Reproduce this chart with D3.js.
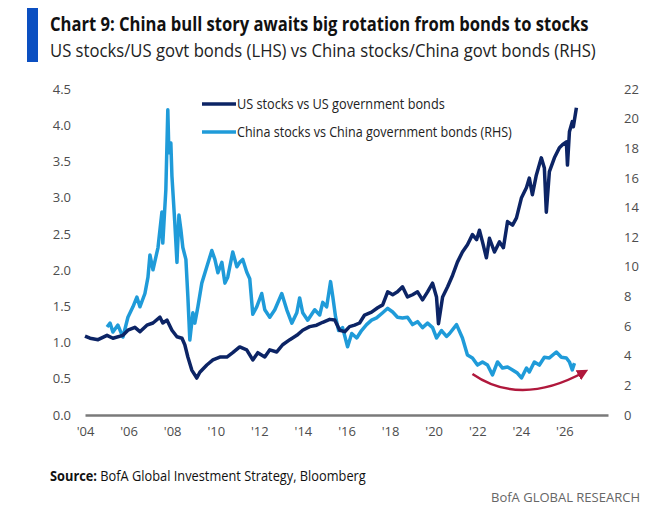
<!DOCTYPE html>
<html>
<head>
<meta charset="utf-8">
<script src="https://cdn.jsdelivr.net/npm/d3@7"></script>
<style>
  body { margin: 0; background: #fff; }
  text { font-family: "Open Sans", "Liberation Sans", sans-serif; }
</style>
</head>
<body>
<script>
// US stocks / US govt bonds (LHS): [year, ratio]
var usYears = [2004.00, 2004.23, 2004.60, 2005.01, 2005.28, 2005.74, 2005.97, 2006.29, 2006.52, 2006.84,
  2007.12, 2007.44, 2007.57, 2007.76, 2007.99, 2008.22, 2008.45, 2008.58, 2008.72, 2008.90,
  2009.13, 2009.27, 2009.59, 2009.87, 2010.19, 2010.51, 2010.78, 2011.10, 2011.42, 2011.70,
  2011.93, 2012.25, 2012.48, 2012.80, 2013.07, 2013.40, 2013.72, 2013.99, 2014.31, 2014.63,
  2014.91, 2015.23, 2015.46, 2015.69, 2015.92, 2016.14, 2016.37, 2016.60, 2016.83, 2017.15,
  2017.43, 2017.66, 2017.89, 2018.12, 2018.34, 2018.57, 2018.80, 2019.03, 2019.26, 2019.49,
  2019.72, 2019.95, 2020.13, 2020.22, 2020.41, 2020.64, 2020.87, 2021.09, 2021.32, 2021.55,
  2021.78, 2021.97, 2022.10, 2022.24, 2022.42, 2022.56, 2022.79, 2023.02, 2023.20, 2023.39,
  2023.62, 2023.80, 2024.03, 2024.26, 2024.39, 2024.53, 2024.71, 2024.94, 2025.08, 2025.17,
  2025.31, 2025.54, 2025.77, 2025.91, 2026.09, 2026.14, 2026.23, 2026.36, 2026.41, 2026.55];
var usValues = [1.09, 1.06, 1.04, 1.10, 1.06, 1.10, 1.17, 1.21, 1.15, 1.24,
  1.27, 1.35, 1.27, 1.31, 1.17, 1.08, 1.06, 0.97, 0.80, 0.62,
  0.51, 0.59, 0.69, 0.76, 0.80, 0.80, 0.86, 0.94, 0.90, 0.76,
  0.86, 0.80, 0.90, 0.87, 0.97, 1.04, 1.10, 1.17, 1.22, 1.24,
  1.28, 1.32, 1.31, 1.17, 1.15, 1.22, 1.24, 1.27, 1.38, 1.42,
  1.48, 1.52, 1.70, 1.66, 1.70, 1.77, 1.63, 1.66, 1.70, 1.59,
  1.70, 1.82, 1.63, 1.26, 1.63, 1.77, 1.93, 2.11, 2.25, 2.35,
  2.49, 2.42, 2.55, 2.39, 2.17, 2.44, 2.25, 2.39, 2.31, 2.67,
  2.62, 2.72, 3.00, 3.14, 3.27, 3.04, 3.31, 3.55, 3.41, 2.80,
  3.36, 3.55, 3.69, 3.73, 3.77, 3.45, 3.91, 4.05, 3.98, 4.24];

// China stocks / China govt bonds (RHS)
var cnYears = [2005.01, 2005.15, 2005.28, 2005.51, 2005.74, 2005.97, 2006.20, 2006.38, 2006.52, 2006.75,
  2006.89, 2006.98, 2007.12, 2007.35, 2007.53, 2007.57, 2007.71, 2007.80, 2007.85, 2007.94,
  2007.99, 2008.12, 2008.22, 2008.31, 2008.40, 2008.49, 2008.63, 2008.72, 2008.81, 2008.95,
  2009.04, 2009.18, 2009.36, 2009.59, 2009.82, 2009.96, 2010.10, 2010.28, 2010.42, 2010.55,
  2010.78, 2010.97, 2011.10, 2011.24, 2011.42, 2011.56, 2011.70, 2011.88, 2012.11, 2012.25,
  2012.48, 2012.71, 2013.03, 2013.26, 2013.49, 2013.72, 2013.85, 2013.99, 2014.22, 2014.54,
  2014.77, 2014.91, 2015.09, 2015.27, 2015.37, 2015.50, 2015.64, 2015.82, 2016.05, 2016.24,
  2016.47, 2016.69, 2016.92, 2017.15, 2017.38, 2017.66, 2017.89, 2018.12, 2018.34, 2018.57,
  2018.80, 2019.03, 2019.26, 2019.49, 2019.72, 2019.95, 2020.13, 2020.36, 2020.59, 2020.73,
  2021.05, 2021.32, 2021.55, 2021.78, 2022.01, 2022.24, 2022.47, 2022.70, 2022.93, 2023.16,
  2023.39, 2023.62, 2023.84, 2024.03, 2024.26, 2024.39, 2024.62, 2024.85, 2025.08, 2025.31,
  2025.63, 2025.86, 2026.09, 2026.23, 2026.36, 2026.46];
var cnValues = [5.94, 6.2, 5.6, 6.07, 5.26, 6.6, 7.3, 7.96, 7.3, 8.2,
  9.3, 10.8, 9.8, 11.3, 13.7, 11.6, 15.2, 20.6, 17.7, 18.35,
  16.1, 13.0, 10.3, 13.5, 12.5, 11.3, 10.5, 8.0, 5.06, 6.9,
  6.2, 7.3, 8.9, 10.0, 11.1, 10.5, 9.6, 10.3, 8.9, 9.3,
  11.0, 10.0, 10.3, 10.5, 9.65, 9.2, 6.8, 7.3, 8.2, 7.1,
  6.6, 7.1, 8.2, 7.1, 6.2, 6.9, 7.9, 6.9, 6.4, 7.1,
  6.75, 7.6, 7.3, 9.0, 8.0, 6.6, 5.7, 5.9, 4.6, 5.5,
  5.2, 5.7, 6.1, 6.4, 6.55, 6.9, 7.2, 6.95, 6.6, 6.55,
  6.6, 6.1, 6.3, 5.9, 6.2, 5.9, 5.2, 5.7, 5.3, 5.5,
  6.1, 5.2, 4.05, 3.85, 3.37, 3.58, 3.37, 2.7, 3.58, 3.17,
  3.24, 3.04, 2.83, 2.5, 3.17, 2.9, 3.58, 3.37, 3.9, 3.85,
  4.25, 3.9, 3.85, 3.58, 3.04, 3.5];

var xTicks = [2004, 2006, 2008, 2010, 2012, 2014, 2016, 2018, 2020, 2022, 2024, 2026];
var leftTicks = [0, 0.5, 1.0, 1.5, 2.0, 2.5, 3.0, 3.5, 4.0, 4.5];
var rightTicks = [0, 2, 4, 6, 8, 10, 12, 14, 16, 18, 20, 22];
var seriesNames = ["US stocks vs US government bonds", "China stocks vs China government bonds (RHS)"];
// annotation arrow under the China line: start, control, end (year, RHS value)
var arrowPts = [[2021.78, 2.77], [2023.98, 0.54], [2026.91, 2.9]];

var width = 662, height = 515;
var navy = "#0c2465", sky = "#1f9bd9", tickColor = "#4d4d4d";

var svg = d3.select("body").append("svg")
  .attr("width", width)
  .attr("height", height);

var x = d3.scaleLinear().domain([2004, 2028]).range([85, 608]);
var yL = d3.scaleLinear().domain([0, 4.5]).range([415, 89]);
var yR = d3.scaleLinear().domain([0, 22]).range([415, 89]);

// squeeze a text horizontally so it spans w pixels (the original uses a condensed face)
function fitText(g, x0, y0, w, anchorEnd) {
  var t = g.select("text");
  var natural = t.node().getComputedTextLength();
  var k = w / natural;
  g.attr("transform", "translate(" + (anchorEnd ? x0 - w : x0) + "," + y0 + ") scale(" + k + ",1)");
}

// header
svg.append("rect")
  .attr("x", 27).attr("y", 8)
  .attr("width", 11).attr("height", 54)
  .attr("fill", "#0b4fc1");

var gTitle = svg.append("g");
gTitle.append("text")
  .style("font-size", "20px").style("font-weight", "bold").attr("fill", "#111")
  .text("Chart 9: China bull story awaits big rotation from bonds to stocks");
fitText(gTitle, 50, 31, 539);

var gSub = svg.append("g");
gSub.append("text")
  .style("font-size", "18px").attr("fill", "#222")
  .text("US stocks/US govt bonds (LHS) vs China stocks/China govt bonds (RHS)");
fitText(gSub, 50, 57, 546);

// axes
var xAxis = d3.axisBottom(x).tickValues(xTicks).tickSize(0).tickPadding(12)
  .tickFormat(function (d) { return "'" + String(d).slice(2); });
var gx = svg.append("g").attr("transform", "translate(0,415)").call(xAxis);
gx.select(".domain").attr("stroke", "#7a7a7a").attr("stroke-width", 2.5);
gx.selectAll("text").style("font-size", "13px").attr("fill", tickColor);

var gl = svg.append("g").attr("transform", "translate(85,0)")
  .call(d3.axisLeft(yL).tickValues(leftTicks).tickSize(0).tickPadding(14)
    .tickFormat(d3.format(".1f")));
gl.select(".domain").remove();
gl.selectAll("text").style("font-size", "13px").attr("fill", tickColor);

var gr = svg.append("g").attr("transform", "translate(608,0)")
  .call(d3.axisRight(yR).tickValues(rightTicks).tickSize(0).tickPadding(16));
gr.select(".domain").remove();
gr.selectAll("text").style("font-size", "13px").attr("fill", tickColor);

// lines
var usData = usYears.map(function (d, i) { return [d, usValues[i]]; });
var cnData = cnYears.map(function (d, i) { return [d, cnValues[i]]; });

svg.append("path")
  .datum(cnData)
  .attr("fill", "none").attr("stroke", sky).attr("stroke-width", 3.5)
  .attr("stroke-linejoin", "round")
  .attr("d", d3.line().x(function (d) { return x(d[0]); }).y(function (d) { return yR(d[1]); }));

svg.append("path")
  .datum(usData)
  .attr("fill", "none").attr("stroke", navy).attr("stroke-width", 3.5)
  .attr("stroke-linejoin", "round")
  .attr("d", d3.line().x(function (d) { return x(d[0]); }).y(function (d) { return yL(d[1]); }));

// red arrow
svg.append("defs").append("marker")
  .attr("id", "head")
  .attr("viewBox", "0 0 10 10").attr("refX", 6).attr("refY", 5)
  .attr("markerWidth", 4.5).attr("markerHeight", 4.5)
  .attr("orient", "auto")
  .append("path").attr("d", "M0,0 L10,5 L0,10 z").attr("fill", "#b0183c");

var p = d3.path();
p.moveTo(x(arrowPts[0][0]), yR(arrowPts[0][1]));
p.quadraticCurveTo(x(arrowPts[1][0]), yR(arrowPts[1][1]), x(arrowPts[2][0]), yR(arrowPts[2][1]));
svg.append("path")
  .attr("d", p.toString())
  .attr("fill", "none").attr("stroke", "#b0183c").attr("stroke-width", 2.5)
  .attr("marker-end", "url(#head)");

// legend
var legendColors = [navy, sky];
var legendWidths = [208, 275];
seriesNames.forEach(function (name, i) {
  var ly = 104 + i * 28;
  svg.append("line")
    .attr("x1", 202).attr("x2", 236).attr("y1", ly).attr("y2", ly)
    .attr("stroke", legendColors[i]).attr("stroke-width", 3.5);
  var gl = svg.append("g");
  gl.append("text")
    .style("font-size", "14px").attr("fill", "#222")
    .text(name);
  fitText(gl, 237, ly + 5, legendWidths[i]);
});

// footer
var gSrc = svg.append("g");
var src = gSrc.append("text")
  .style("font-size", "14px").attr("fill", "#111");
src.append("tspan").style("font-weight", "bold").text("Source:");
src.append("tspan").text(" BofA Global Investment Strategy, Bloomberg");
fitText(gSrc, 50, 481, 316);

var gBrand = svg.append("g");
gBrand.append("text")
  .style("font-size", "13px").attr("fill", "#666")
  .text("BofA GLOBAL RESEARCH");
fitText(gBrand, 640, 502, 149, true);
</script>
</body>
</html>
